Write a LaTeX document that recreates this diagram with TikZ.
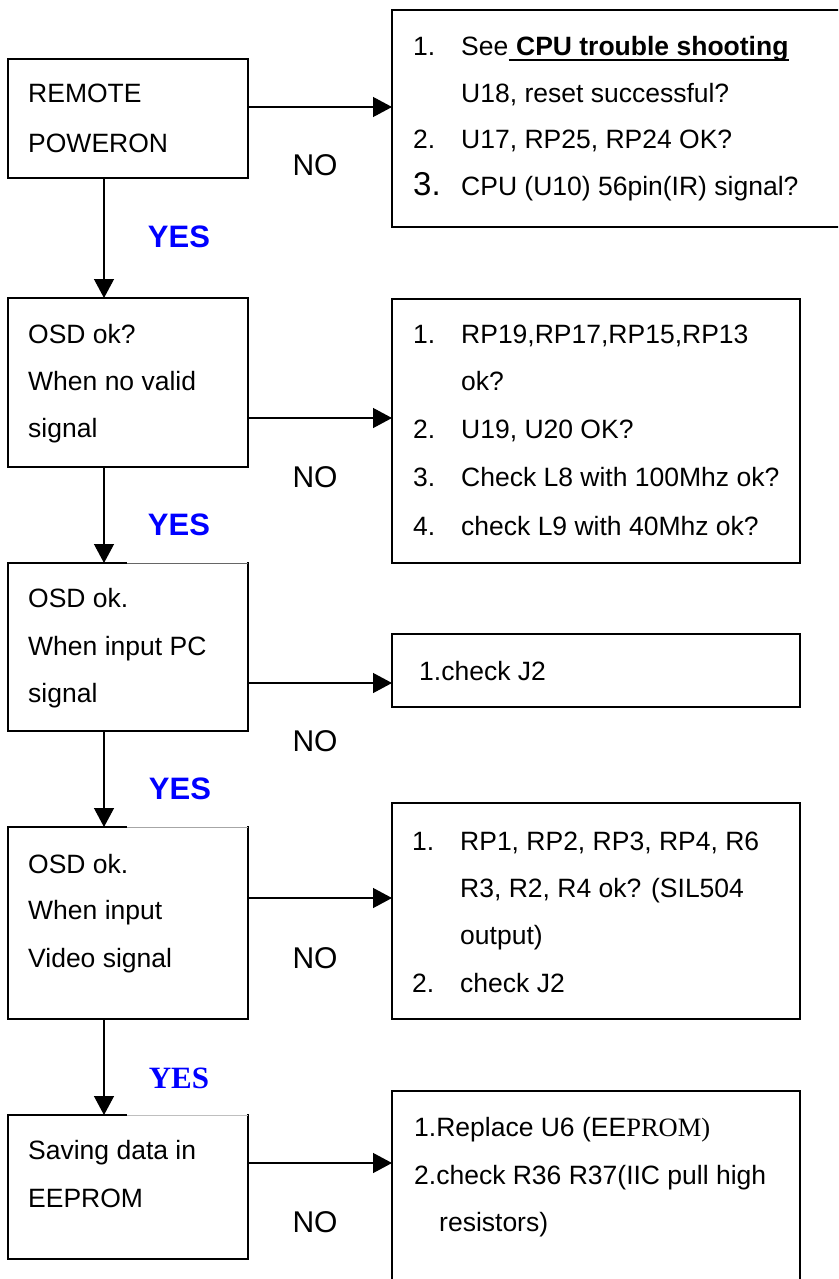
\documentclass[tikz,border=0pt]{standalone}
\usepackage{fontspec}
\setmainfont{Liberation Sans}
\newfontfamily\timesf{Liberation Serif}
\usetikzlibrary{arrows.meta}
\definecolor{yesblue}{RGB}{0,0,255}
\begin{document}
\begin{tikzpicture}[x=1pt,y=-1pt,
  box/.style={draw, line width=1.7pt, inner sep=0pt, outer sep=0pt, anchor=north west},
  arr/.style={line width=1.3pt, -{Triangle[length=19pt,width=20pt]}},
  txt/.style={anchor=base west, inner sep=0pt, font=\fontsize{26.5}{30}\selectfont},
  bignum/.style={anchor=base west, inner sep=0pt, font=\fontsize{33}{38}\selectfont},
  nolab/.style={inner sep=0pt, font=\fontsize{30}{36}\selectfont},
  yeslab/.style={inner sep=0pt, text=yesblue, font=\fontsize{31}{36}\selectfont\bfseries},
  yesserif/.style={inner sep=0pt, text=yesblue, font=\fontsize{31}{36}\selectfont\timesf\bfseries},
  thintop/.style={line width=0.7pt, black!60}]
\clip (0,0) rectangle (838,1279);
\fill[white] (0,0) rectangle (838,1279);

% ---------- boxes ----------
\node[box, minimum width=240, minimum height=119] (A) at (8,59) {};
\node[box, minimum width=452, minimum height=217] (B) at (392,10) {};
\node[box, minimum width=240, minimum height=169] (C) at (8,298) {};
\node[box, minimum width=408, minimum height=264] (D) at (392,299) {};
\node[box, minimum width=240, minimum height=168] (E) at (8,563) {};
\node[box, minimum width=408, minimum height=73] (E2) at (392,634) {};
\node[box, minimum width=240, minimum height=192] (F) at (8,827) {};
\node[box, minimum width=408, minimum height=216] (F2) at (392,803) {};
\node[box, minimum width=240, minimum height=144] (G) at (8,1115) {};
\node[box, minimum width=408, minimum height=220] (G2) at (392,1091) {};

% lighter right part of some top borders
\draw[white, line width=2.6pt] (127,563) -- (246.9,563);
\draw[thintop] (127,563) -- (248,563);
\draw[white, line width=2.6pt] (127,827) -- (246.9,827);
\draw[thintop, black!35] (127,827) -- (248,827);
\draw[white, line width=2.6pt] (127,1115) -- (246.9,1115);
\draw[thintop, black!25] (127,1115) -- (248,1115);

% ---------- connectors ----------
\coordinate (xv) at (104,0);
\coordinate (yA) at (0,107);
\coordinate (yC) at (0,418);
\coordinate (yE) at (0,683);
\coordinate (yF) at (0,898);
\coordinate (yG) at (0,1163);
\draw[arr] (A.east |- yA) -- (B.west |- yA);
\draw[arr] (C.east |- yC) -- (D.west |- yC);
\draw[arr] (E.east |- yE) -- (E2.west |- yE);
\draw[arr] (F.east |- yF) -- (F2.west |- yF);
\draw[arr] (G.east |- yG) -- (G2.west |- yG);
\draw[arr] (A.south -| xv) -- (C.north -| xv);
\draw[arr] (C.south -| xv) -- (E.north -| xv);
\draw[arr] (E.south -| xv) -- (F.north -| xv);
\draw[arr] (F.south -| xv) -- (G.north -| xv);

% ---------- labels ----------
\node[nolab] (no1) at (315,165.5) {NO};
\node[nolab] (no2) at (315,477.5) {NO};
\node[nolab] (no3) at (315,741) {NO};
\node[nolab] (no4) at (315,958.5) {NO};
\node[nolab] (no5) at (315,1222.5) {NO};
\node[yeslab] (yes1) at (179,237) {YES};
\node[yeslab] (yes2) at (179,525) {YES};
\node[yeslab] (yes3) at (180,789) {YES};
\node[yesserif] (yes4) at (179,1078) {YES};

% ---------- texts: left column ----------
\node[txt] (a1) at (28,103) {REMOTE};
\node[txt] (a2) at (28,152) {POWERON};
\node[txt] (c1) at (28,343) {OSD ok?};
\node[txt] (c2) at (28,390) {When no valid};
\node[txt] (c3) at (28,437) {signal};
\node[txt] (e1) at (28,607) {OSD ok.};
\node[txt] (e2) at (28,655) {When input PC};
\node[txt] (e3) at (28,702) {signal};
\node[txt] (f1) at (28,873) {OSD ok.};
\node[txt] (f2) at (28,919) {When input};
\node[txt] (f3) at (28,967) {Video signal};
\node[txt] (g1) at (28,1159) {Saving data in};
\node[txt] (g2) at (28,1207) {EEPROM};

% ---------- texts: right column ----------
\node[txt] (b1n) at (413,56) {1.};
\node[txt] (b1s) at (461,56) {See};
\node[txt] (b1u) at (b1s.base east) {\ \textbf{CPU trouble shooting}\ };
\draw[line width=2pt] ([yshift=-4.5pt]b1u.base west) -- ([yshift=-4.5pt]b1u.base east);
\node[txt] (b1b) at (461,103) {U18, reset successful?};
\node[txt] (b2n) at (413,149) {2.};
\node[txt] (b2) at (461,149) {U17, RP25, RP24 OK?};
\node[bignum] (b3n) at (413,195) {3.};
\node[txt] (b3) at (461,195) {CPU (U10) 56pin(IR) signal?};

\node[txt] (d1n) at (413,343) {1.};
\node[txt] (d1) at (461,343) {RP19,RP17,RP15,RP13};
\node[txt] (d1b) at (461,390) {ok?};
\node[txt] (d2n) at (413,438) {2.};
\node[txt] (d2) at (461,438) {U19, U20 OK?};
\node[txt] (d3n) at (413,486.5) {3.};
\node[txt] (d3) at (461,486.5) {Check L8 with 100Mhz ok?};
\node[txt] (d4n) at (413,535) {4.};
\node[txt] (d4) at (461,535) {check L9 with 40Mhz ok?};

\node[txt] (e21) at (419,680) {1.check J2};

\node[txt] (f21n) at (412,850) {1.};
\node[txt] (f21) at (460,850) {RP1, RP2, RP3, RP4, R6};
\node[txt] (f21b) at (460,897) {R3, R2, R4 ok? (SIL504};
\node[txt] (f21c) at (460,944) {output)};
\node[txt] (f22n) at (412,992) {2.};
\node[txt] (f22) at (460,992) {check J2};

\node[txt] (g21) at (414,1136) {1.Replace U6 (EE{\timesf PROM)}};
\node[txt] (g22) at (414,1184) {2.check R36 R37(IIC pull high};
\node[txt] (g23) at (439,1231) {resistors)};
\end{tikzpicture}
\end{document}
